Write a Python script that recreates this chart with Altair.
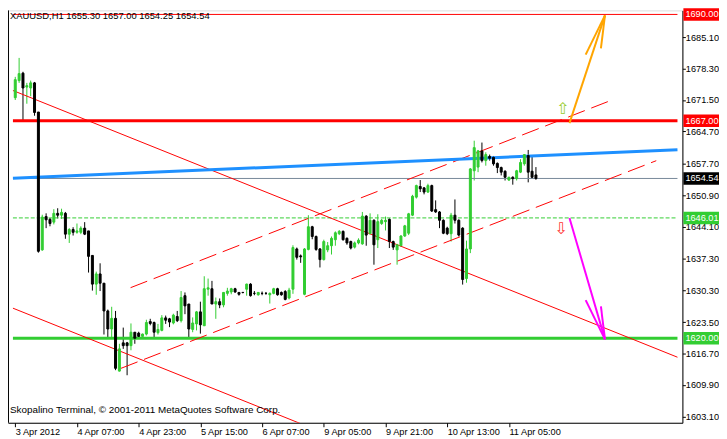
import altair as alt
import pandas as pd

# ---------------- data (hourly XAUUSD bars) ----------------
bar_index = list(range(136))
opens = [1672.0, 1675.7, 1677.3, 1674.3, 1674.1, 1675.2, 1668.9, 1639.1, 1646.3, 1645.7,
         1645.1, 1647.0, 1646.6, 1647.0, 1642.5, 1643.5, 1642.9, 1642.9, 1643.8, 1643.2,
         1637.9, 1631.7, 1633.9, 1631.9, 1625.9, 1622.0, 1624.3, 1612.9, 1619.0, 1619.0,
         1618.4, 1621.3, 1621.1, 1620.4, 1620.9, 1623.6, 1623.4, 1621.2, 1621.7, 1624.4,
         1624.2, 1623.3, 1624.7, 1623.8, 1629.2, 1627.4, 1621.9, 1623.1, 1625.7, 1622.7,
         1630.6, 1630.7, 1627.4, 1627.9, 1627.2, 1629.7, 1630.0, 1630.7, 1629.9, 1629.9,
         1630.6, 1631.7, 1629.7, 1629.4, 1629.7, 1629.7, 1629.4, 1629.7, 1630.7, 1629.9,
         1630.1, 1628.7, 1630.6, 1639.3, 1637.8, 1629.5, 1639.2, 1644.1, 1642.0, 1639.3,
         1637.0, 1639.1, 1640.0, 1641.3, 1642.6, 1643.1, 1641.6, 1640.9, 1639.7, 1640.6,
         1640.4, 1646.4, 1642.6, 1645.5, 1641.3, 1644.8, 1645.2, 1645.7, 1640.9, 1639.1,
         1640.0, 1642.1, 1642.7, 1646.6, 1650.5, 1652.8, 1652.5, 1651.6, 1653.0, 1647.8,
         1647.3, 1645.5, 1643.8, 1642.6, 1646.6, 1645.5, 1643.8, 1632.9, 1639.3, 1656.2,
         1657.0, 1660.5, 1658.4, 1659.3, 1659.1, 1657.8, 1656.9, 1656.1, 1654.2, 1654.8,
         1654.5, 1655.9, 1657.7, 1659.5, 1656.1, 1655.3]
highs = [1676.5, 1680.6, 1677.6, 1675.2, 1675.7, 1675.4, 1668.9, 1646.7, 1647.0, 1646.0,
         1647.9, 1648.1, 1648.0, 1647.3, 1643.8, 1644.0, 1644.8, 1644.2, 1645.1, 1643.2,
         1637.9, 1634.4, 1636.2, 1631.9, 1626.2, 1626.8, 1625.9, 1618.8, 1622.3, 1619.2,
         1623.2, 1621.3, 1621.4, 1621.0, 1624.0, 1624.2, 1623.6, 1623.1, 1625.0, 1624.9,
         1624.4, 1625.3, 1625.9, 1630.2, 1629.9, 1627.4, 1624.5, 1625.9, 1627.9, 1633.4,
         1632.9, 1632.4, 1628.8, 1628.6, 1630.0, 1630.9, 1630.9, 1630.9, 1630.0, 1630.0,
         1631.8, 1631.9, 1630.2, 1630.0, 1630.1, 1630.0, 1629.9, 1630.9, 1630.9, 1630.1,
         1630.4, 1630.9, 1640.1, 1639.6, 1638.1, 1639.5, 1646.6, 1644.3, 1642.2, 1639.5,
         1641.3, 1640.8, 1642.0, 1643.1, 1643.4, 1643.3, 1641.8, 1641.1, 1640.9, 1641.6,
         1647.3, 1646.6, 1647.0, 1645.7, 1646.8, 1645.8, 1646.3, 1645.9, 1641.1, 1640.4,
         1642.3, 1644.5, 1647.1, 1651.0, 1653.2, 1654.2, 1652.7, 1653.4, 1653.2, 1649.8,
         1647.5, 1645.7, 1644.1, 1647.1, 1650.0, 1645.7, 1644.0, 1641.1, 1656.8, 1662.7,
         1660.7, 1662.3, 1660.2, 1659.7, 1659.4, 1658.0, 1657.1, 1656.3, 1654.9, 1655.0,
         1656.4, 1658.7, 1659.8, 1660.7, 1659.4, 1657.0]
lows = [1671.5, 1675.2, 1667.0, 1670.7, 1672.3, 1668.1, 1638.5, 1638.9, 1643.8, 1644.2,
        1644.6, 1645.9, 1645.8, 1641.5, 1640.6, 1642.2, 1642.6, 1642.5, 1642.3, 1634.2,
        1630.3, 1629.4, 1630.2, 1620.8, 1620.2, 1619.8, 1613.1, 1612.8, 1617.7, 1612.0,
        1617.4, 1618.8, 1620.0, 1620.3, 1620.6, 1622.8, 1620.2, 1620.8, 1621.5, 1623.1,
        1622.4, 1623.0, 1623.5, 1623.4, 1625.2, 1620.0, 1621.3, 1621.7, 1621.0, 1622.7,
        1629.2, 1627.4, 1624.2, 1626.5, 1626.7, 1629.2, 1629.5, 1629.8, 1629.2, 1629.7,
        1629.2, 1629.0, 1629.3, 1629.2, 1629.3, 1629.4, 1627.5, 1629.5, 1629.2, 1629.2,
        1628.2, 1628.4, 1629.6, 1637.0, 1636.3, 1629.3, 1639.0, 1641.4, 1638.9, 1635.3,
        1636.8, 1638.6, 1638.1, 1640.0, 1642.3, 1641.1, 1640.2, 1639.2, 1639.4, 1640.3,
        1640.2, 1640.0, 1642.4, 1635.9, 1639.5, 1644.5, 1643.3, 1639.5, 1639.1, 1635.9,
        1639.8, 1641.9, 1642.3, 1646.4, 1650.2, 1651.6, 1651.1, 1651.4, 1647.3, 1647.1,
        1643.8, 1642.5, 1642.3, 1640.9, 1644.8, 1642.0, 1631.6, 1632.0, 1638.4, 1654.1,
        1655.9, 1658.0, 1657.3, 1658.4, 1657.3, 1655.7, 1655.2, 1654.1, 1654.0, 1653.2,
        1654.1, 1655.7, 1657.3, 1653.7, 1654.5, 1654.25]
closes = [1675.9, 1677.2, 1674.1, 1674.6, 1675.2, 1668.8, 1638.8, 1646.2, 1645.6, 1644.8,
          1647.0, 1646.6, 1647.2, 1642.5, 1643.5, 1642.9, 1643.2, 1643.8, 1642.5, 1637.7,
          1631.7, 1633.9, 1631.9, 1625.9, 1622.0, 1624.3, 1613.5, 1617.7, 1618.4, 1618.4,
          1621.3, 1620.0, 1620.4, 1620.9, 1623.4, 1623.2, 1621.3, 1621.9, 1624.4, 1623.9,
          1623.5, 1625.0, 1623.8, 1628.8, 1627.0, 1622.0, 1623.3, 1625.7, 1622.9, 1630.7,
          1630.9, 1627.4, 1627.9, 1627.2, 1629.9, 1630.2, 1630.7, 1630.0, 1629.5, 1629.9,
          1631.7, 1629.2, 1629.7, 1629.9, 1629.7, 1629.7, 1629.7, 1630.7, 1629.4, 1629.4,
          1628.4, 1630.4, 1639.6, 1637.5, 1637.6, 1639.3, 1644.1, 1642.0, 1639.2, 1637.0,
          1640.9, 1640.0, 1641.6, 1642.8, 1643.1, 1641.3, 1640.6, 1639.5, 1640.6, 1641.2,
          1646.4, 1642.3, 1645.5, 1640.2, 1645.2, 1645.5, 1645.5, 1640.9, 1639.7, 1640.2,
          1642.1, 1644.3, 1646.9, 1650.7, 1653.0, 1652.3, 1651.6, 1653.0, 1647.5, 1647.3,
          1645.5, 1642.7, 1642.6, 1646.6, 1645.5, 1642.3, 1632.7, 1639.3, 1656.6, 1661.2,
          1660.5, 1658.4, 1659.7, 1658.9, 1657.7, 1656.9, 1655.9, 1654.8, 1654.8, 1654.5,
          1656.2, 1658.0, 1659.7, 1655.9, 1654.8, 1654.54]

x_tick_values = [0, 16, 32, 48, 64, 80, 96, 112, 128]
x_tick_labels = ["3 Apr 2012", "4 Apr 07:00", "4 Apr 23:00", "5 Apr 15:00", "6 Apr 07:00",
                 "9 Apr 05:00", "9 Apr 21:00", "10 Apr 13:00", "11 Apr 05:00"]
y_tick_values = [1685.10, 1678.30, 1671.50, 1664.70, 1657.70, 1650.90, 1644.10,
                 1637.30, 1630.30, 1623.50, 1616.70, 1609.90, 1603.10]

# horizontal levels
level_prices = [1690.00, 1667.00, 1654.54, 1646.01, 1620.00]
level_colors = ["#FF0000", "#FF0000", "#778899", "#32CD32", "#32CD32"]
level_widths = [1, 3, 1, 1, 3]
tag_colors = ["#FF0000", "#FF0000", "#000000", "#32CD32", "#32CD32"]

# trend lines (bar index, price) -> (bar index, price)
blue_line = [(-0.6, 1654.58, 171.7, 1660.75)]
red_solid_lines = [(-0.6, 1673.55, 171.7, 1615.90),
                   (-0.6, 1626.50, 171.7, 1568.85)]
red_dashed_lines = [(29.9, 1630.93, 154.2, 1671.33),
                    (27.4, 1613.49, 166.2, 1658.38)]
orange_arrow = [(143.7, 1666.50, 152.9, 1689.80),
                (147.9, 1681.32, 152.9, 1689.80),
                (151.85, 1682.67, 152.9, 1689.80)]
magenta_arrow = [(143.7, 1645.98, 152.9, 1619.76),
                 (147.9, 1628.24, 152.9, 1619.76),
                 (151.85, 1626.89, 152.9, 1619.76)]
up_icon = (141.9, 1669.5)
down_icon = (141.5, 1643.6)

header_text = "XAUUSD,H1  1655.30 1657.00 1654.25 1654.54"
footer_text = "Skopalino Terminal, \u00a9 2001-2011 MetaQuotes Software Corp."

# ---------------- chart ----------------
W, H = 682, 417
X_DOM = [-0.6, 171.7]
Y_DOM = [1601.73, 1690.87]
FONT = "Liberation Sans"
FS = 9.3

xs = alt.Scale(domain=X_DOM, nice=False, zero=False)
ys = alt.Scale(domain=Y_DOM, nice=False, zero=False)

label_expr = "[" + ",".join("'%s'" % s for s in x_tick_labels) + "][round(datum.value/16)]"
x_axis = alt.Axis(values=x_tick_values, labelExpr=label_expr, orient="bottom",
                  labelAlign="left", labelBaseline="top", labelPadding=1,
                  tickSize=4, grid=False, title=None, labelFlush=False,
                  labelOverlap=False, domainColor="black", tickColor="black",
                  labelColor="black", labelFont=FONT, labelFontSize=FS)
y_axis = alt.Axis(values=y_tick_values, format=".2f", orient="right", tickSize=3,
                  labelPadding=0, grid=False, title=None, labelFlush=False,
                  labelOverlap=False, labelBaseline="middle", domainColor="black",
                  tickColor="black", labelColor="black", labelFont=FONT,
                  labelFontSize=FS)


def X(field):
    return alt.X(field, scale=xs, axis=x_axis)


def Y(field):
    return alt.Y(field, scale=ys, axis=y_axis)


df = pd.DataFrame({"i": bar_index, "o": opens, "h": highs, "l": lows, "c": closes})
up = "datum.c > datum.o"
GREEN = "#32CD32"

wicks = alt.Chart(df).mark_rule(strokeWidth=1).encode(
    x=X("i:Q"), y=Y("l:Q"), y2="h:Q",
    color=alt.condition(up, alt.value(GREEN), alt.value("#000000")),
)
bodies = alt.Chart(df).mark_bar(width=2, strokeWidth=1).encode(
    x=X("i:Q"), y=Y("o:Q"), y2="c:Q",
    fill=alt.condition(up, alt.value(GREEN), alt.value("#000000")),
    stroke=alt.condition(up, alt.value(GREEN), alt.value("#000000")),
)


def segs(rows, color, width, dash=None, clip=True):
    d = pd.DataFrame(rows, columns=["x", "y", "x2", "y2"])
    kw = dict(color=color, strokeWidth=width, clip=clip)
    if dash:
        kw["strokeDash"] = dash
    return alt.Chart(d).mark_rule(**kw).encode(
        x=X("x:Q"), y=Y("y:Q"), x2="x2:Q", y2="y2:Q")


level_layers = []
for p, col, w in zip(level_prices, level_colors, level_widths):
    dash = [4, 2] if p == 1646.01 else None
    level_layers.append(segs([(X_DOM[0], p, X_DOM[1], p)], col, w, dash))

tags_df = pd.DataFrame({"p": level_prices, "txt": ["%.2f" % v for v in level_prices],
                        "col": tag_colors,
                        "top": [v + 1.35 for v in level_prices],
                        "bot": [v - 1.35 for v in level_prices]})
tag_boxes = alt.Chart(tags_df).mark_rect().encode(
    x=alt.value(W + 1), x2=alt.value(W + 40),
    y=Y("top:Q"), y2="bot:Q",
    fill=alt.Fill("col:N", scale=None),
)
tag_text = alt.Chart(tags_df).mark_text(align="left", baseline="middle", color="white",
                                        font=FONT, fontSize=FS).encode(
    x=alt.value(W + 3), y=Y("p:Q"), text="txt:N")

icons_df = pd.DataFrame({"x": [up_icon[0], down_icon[0]], "y": [up_icon[1], down_icon[1]],
                         "g": ["\u21e7", "\u21e9"], "col": ["#9ACD32", "#FF3333"]})
icons = alt.Chart(icons_df).mark_text(font="DejaVu Sans", fontSize=16, baseline="middle").encode(
    x=X("x:Q"), y=Y("y:Q"), text="g:N",
    color=alt.Color("col:N", scale=None))

header = alt.Chart(pd.DataFrame({"t": [header_text]})).mark_text(
    align="left", baseline="top", font=FONT, fontSize=9.5, color="black").encode(
    x=alt.value(2), y=alt.value(1), text="t:N")
footer = alt.Chart(pd.DataFrame({"t": [footer_text]})).mark_text(
    align="left", baseline="middle", font=FONT, fontSize=10, color="black").encode(
    x=alt.value(2), y=alt.value(H - 13), text="t:N")
left_border = alt.Chart(pd.DataFrame({"a": [0]})).mark_rule(color="black", strokeWidth=1).encode(
    x=alt.value(0.5), y=alt.value(0), y2=alt.value(H))

chart = alt.layer(
    wicks,
    *level_layers,
    segs(red_solid_lines, "#FF0000", 1),
    segs(red_dashed_lines, "#FF0000", 1, [18, 7]),
    segs(blue_line, "#1E90FF", 3),
    bodies,
    segs(orange_arrow, "#FFA500", 2),
    segs(magenta_arrow, "#FF00FF", 2),
    icons,
    header,
    footer,
    left_border,
    tag_boxes,
    tag_text,
).properties(
    width=W, height=H,
    autosize=alt.AutoSizeParams(type="none"),
    padding={"left": 0, "top": 0, "right": 37, "bottom": 14},
).configure_view(stroke=None).configure_axis(labelOverlap=False).configure(
    background="white")

chart.save("out.html", embed_options={"renderer": "svg", "actions": False})
